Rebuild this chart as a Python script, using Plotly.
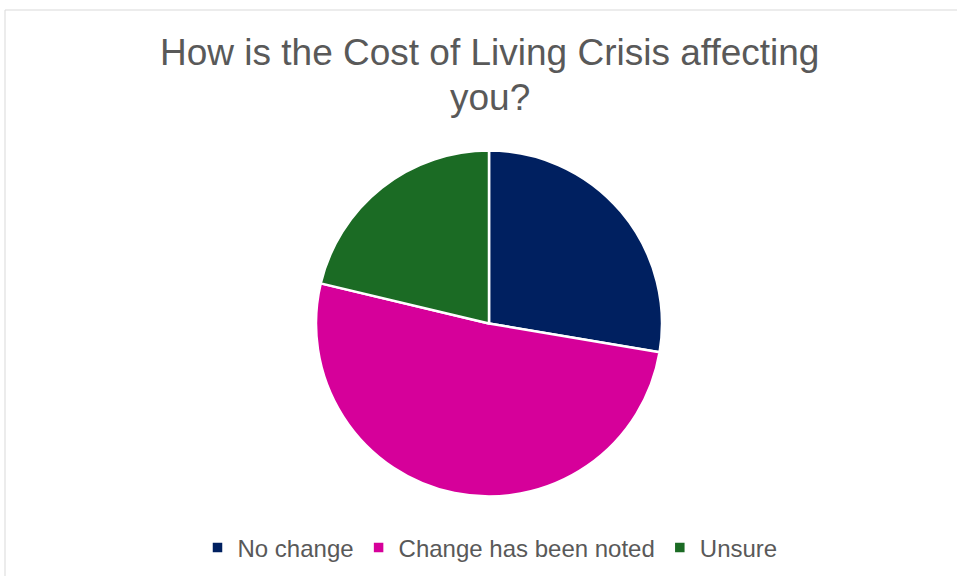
import plotly.graph_objects as go

# Survey responses
labels = ["No change", "Change has been noted", "Unsure"]
counts = [13, 24, 10]
colors = ["#002060", "#D6009A", "#1B6B24"]
title_lines = ["How is the Cost of Living Crisis affecting", "you?"]

W, H = 957, 576

fig = go.Figure(
    go.Pie(
        labels=labels,
        values=counts,
        sort=False,
        direction="clockwise",
        rotation=0,
        textinfo="none",
        hoverinfo="label+percent",
        marker=dict(colors=colors, line=dict(color="white", width=2.5)),
        domain=dict(x=[316 / W, 662 / W], y=[1 - 497 / H, 1 - 150 / H]),
    )
)

# Two-line chart title, one annotation per line for tight line spacing
title_centres = [53, 98]
annotations = [
    dict(
        text=line,
        xref="paper",
        yref="paper",
        x=490 / W,
        y=1 - yc / H,
        xanchor="center",
        yanchor="middle",
        showarrow=False,
        font=dict(size=37, color="#595959"),
    )
    for line, yc in zip(title_lines, title_centres)
]

fig.update_layout(
    width=W,
    height=H,
    margin=dict(l=0, r=0, t=0, b=0),
    paper_bgcolor="white",
    font=dict(family="Liberation Sans, Arial, sans-serif", color="#595959"),
    annotations=annotations,
    legend=dict(
        orientation="h",
        x=490 / W,
        xanchor="center",
        y=1 - 548 / H,
        yanchor="middle",
        font=dict(size=24, color="#595959"),
        itemwidth=30,
    ),
    shapes=[
        dict(
            type="rect",
            xref="paper",
            yref="paper",
            x0=5 / W,
            x1=1.01,
            y0=-0.01,
            y1=1 - 10 / H,
            line=dict(color="#D9D9D9", width=1),
            fillcolor="rgba(0,0,0,0)",
            layer="below",
        )
    ],
)

fig.write_html("out.html")
